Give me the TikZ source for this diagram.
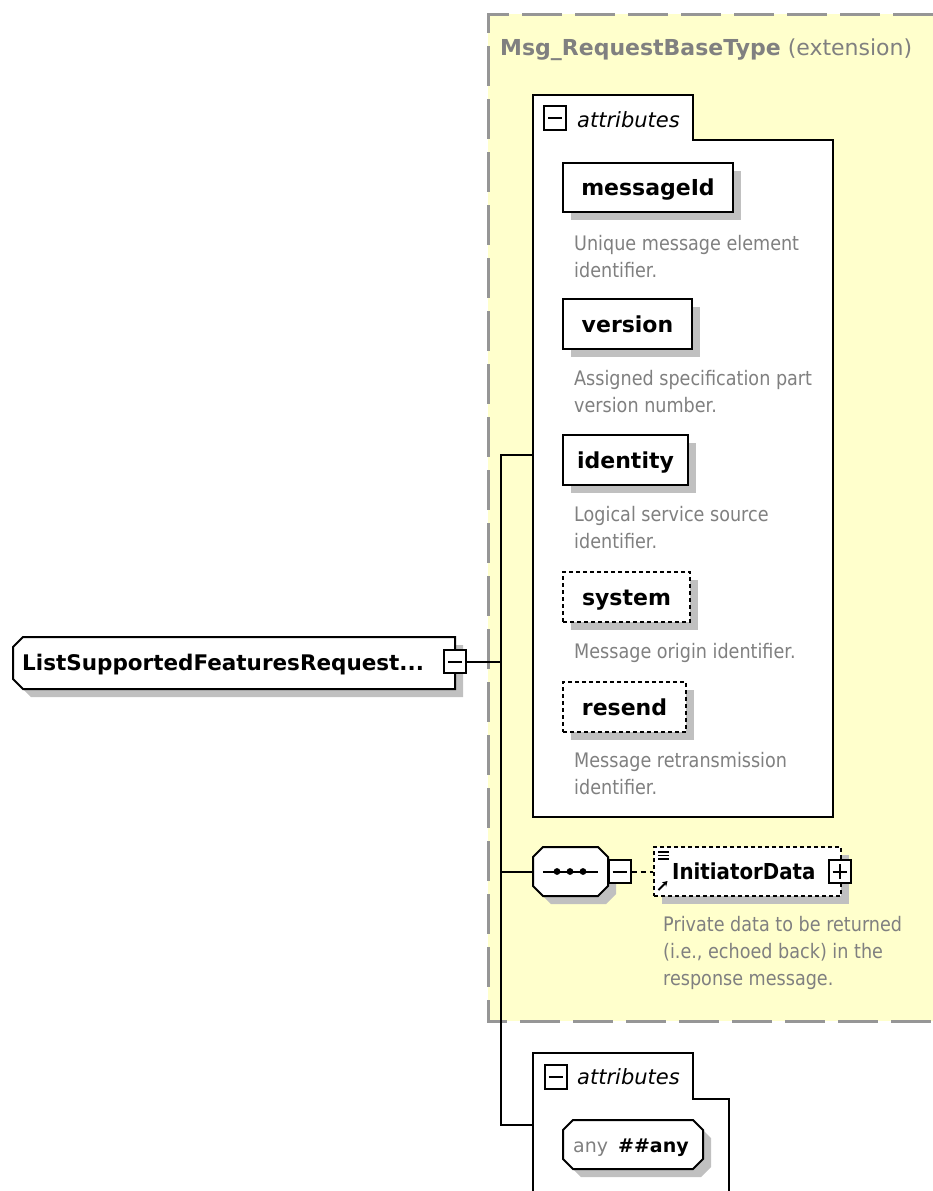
\documentclass[tikz,border=0pt]{standalone}
\usepackage{fontspec}
\setmainfont{DejaVu Sans}
\newfontfamily\notefont[FakeStretch=0.88]{DejaVu Sans}
\newfontfamily\narrowfont[FakeStretch=0.9]{DejaVu Sans}
\usetikzlibrary{shadows,arrows.meta,calc}

\definecolor{panel}{RGB}{255,255,204}
\definecolor{panelrule}{RGB}{150,150,150}
\definecolor{shadowgray}{RGB}{192,192,192}
\definecolor{notegray}{RGB}{128,128,128}

% Cut-corner outline with its drop shadow:
% centre x, centre y, half width, half height, left cut, right cut
\newcommand\cutbox[6]{%
  \fill[shadowgray, shift={(#1+8,#2+8)}]
    (-#3+#5,-#4) -- (#3-#6,-#4) -- (#3,-#4+#6) -- (#3,#4-#6) -- (#3-#6,#4)
    -- (-#3+#5,#4) -- (-#3,#4-#5) -- (-#3,-#4+#5) -- cycle;
  \draw[line width=2pt, fill=white, shift={(#1,#2)}]
    (-#3+#5,-#4) -- (#3-#6,-#4) -- (#3,-#4+#6) -- (#3,#4-#6) -- (#3-#6,#4)
    -- (-#3+#5,#4) -- (-#3,#4-#5) -- (-#3,-#4+#5) -- cycle;
}

\tikzset{
  shadowed/.style={general shadow={fill=shadowgray, shadow xshift=8pt, shadow yshift=-8pt}},
  elem/.style={rectangle, draw=black, line width=2pt, fill=white, inner sep=0pt,
    shadowed, font=\fontsize{22}{22}\selectfont\bfseries, text height=16pt, text depth=0pt},
  optelem/.style={elem, dash pattern=on 4pt off 3pt},
  frame/.style={rectangle, inner sep=0pt},
  note/.style={anchor=base west, inner sep=0pt, text=notegray,
    font=\notefont\fontsize{20}{27}\selectfont, align=left},
  toggle/.style={rectangle, draw=black, line width=2pt, fill=white, inner sep=0pt,
    minimum width=22pt, minimum height=23pt},
  minusbox/.style={toggle, path picture={
    \draw[line width=2pt] ([xshift=4pt]path picture bounding box.west) --
      ([xshift=-4pt]path picture bounding box.east);}},
  plusbox/.style={toggle, path picture={
    \draw[line width=2pt] ([xshift=4pt]path picture bounding box.west) --
      ([xshift=-4pt]path picture bounding box.east);
    \draw[line width=2pt] ([yshift=-4pt]path picture bounding box.north) --
      ([yshift=4pt]path picture bounding box.south);}},
  wire/.style={line width=2pt, black},
  optwire/.style={wire, dash pattern=on 5pt off 4pt},
  groupbox/.style={draw=black, line width=2pt, fill=white},
  grouplabel/.style={anchor=base west, inner sep=0pt,
    font=\fontsize{21}{21}\selectfont\itshape},
  paneledge/.style={draw=panelrule, line width=3pt, dash pattern=on 40pt off 13pt},
  boldlabel/.style={anchor=west, inner sep=0pt, font=\fontsize{22}{22}\selectfont\bfseries,
    text height=16pt, text depth=0pt},
}

\begin{document}
\begin{tikzpicture}[x=1pt,y=-1pt]
  \path[use as bounding box, fill=white] (0,0) rectangle (933,1191);

  % base type extension panel
  \fill[panel] (488,14) rectangle (933,1021);
  \draw[paneledge] (933,14) -- (488,14) -- (488,1021) -- (933,1021);
  \node[anchor=base west, inner sep=0pt, text=notegray,
    font=\fontsize{22}{22}\selectfont] (basetitle) at (500,55)
    {\textbf{Msg\_RequestBaseType} (extension)};

  % inherited attribute group
  \path[groupbox] (533,95) -- (693,95) -- (693,140) -- (833,140) -- (833,817)
    -- (533,817) -- cycle;
  \node[minusbox, minimum height=24pt] (attrAx) at (555,118) {};
  \node[grouplabel] (attrAlbl) at (577,127) {attributes};
  \coordinate (attrAin) at (533,455);

  \node[elem, minimum width=170pt, minimum height=49pt] (messageId) at (648,187.5) {messageId};
  \node[note] (messageIdNote) at (574,277) {Unique message element\\identifier.};

  \node[elem, minimum width=129pt, minimum height=50pt] (version) at (627.5,324) {version};
  \node[note] (versionNote) at (574,412) {Assigned specification part\\version number.};

  \node[elem, minimum width=125pt, minimum height=50pt] (identity) at (625.5,460) {identity};
  \node[note] (identityNote) at (574,548) {Logical service source\\identifier.};

  \node[optelem, minimum width=127pt, minimum height=50pt] (system) at (626.5,597) {system};
  \node[note] (systemNote) at (574,658) {Message origin identifier.};

  \node[optelem, minimum width=123pt, minimum height=50pt] (resend) at (624.5,707) {resend};
  \node[note] (resendNote) at (574,794) {Message retransmission\\identifier.};

  % sequence with the optional initiator data
  \cutbox{570.5}{871.5}{37.5}{24.5}{10}{10}
  \node[frame, minimum width=75pt, minimum height=49pt] (seq) at (570.5,871.5) {};
  \draw[line width=2pt] ([xshift=10pt]seq.west) -- ([xshift=-10pt]seq.east);
  \foreach \dx in {557,570,583} \fill (\dx,871.5) circle (3.4pt);
  \node[minusbox] (seqx) at (619.5,871.5) {};

  \node[optelem, minimum width=187pt, minimum height=49pt] (init) at (747.5,871.5) {};
  \node[boldlabel, font=\narrowfont\fontsize{22}{22}\selectfont\bfseries] (initlbl)
    at (672,871.5) {InitiatorData};
  \node[plusbox] (initx) at (839.5,871.5) {};
  \foreach \ly in {852,855.5,859} \draw[line width=1.2pt] (658,\ly) -- (669,\ly);
  \draw[line width=1.8pt, -{Stealth[length=5pt,width=6pt]}] (658.5,890) -- (667.5,881);
  \node[note] (initNote) at (663,985) {Private data to be returned\\(i.e., echoed back) in the\\response message.};

  % own attribute group
  \path[groupbox] (533,1200) -- (533,1053) -- (693,1053) -- (693,1099) -- (729,1099)
    -- (729,1200);
  \node[minusbox, minimum height=24pt] (attrBx) at (555.5,1076.5) {};
  \node[grouplabel] (attrBlbl) at (577,1084) {attributes};
  \coordinate (attrBin) at (533,1125);
  \cutbox{633}{1144.5}{70}{24.5}{10}{10}
  \node[frame, minimum width=140pt, minimum height=49pt] (anyattr) at (633,1144.5) {};
  \node[anchor=base west, inner sep=0pt, font=\fontsize{19}{19}\selectfont]
    (anylbl) at (573,1152) {\textcolor{notegray}{any}\hspace{10pt}\textbf{\#\#any}};

  % the element itself
  \cutbox{234}{663}{221}{26}{10}{0}
  \node[frame, minimum width=442pt, minimum height=52pt] (main) at (234,663) {};
  \node[boldlabel, font=\fontsize{21.5}{21.5}\selectfont\bfseries] (mainlbl)
    at (22,662) {ListSupportedFeaturesRequest...};
  \node[minusbox] (mainx) at (455,661.5) {};

  % connectors
  \coordinate (trunkTop) at (501,455);
  \coordinate (trunkEnd) at (501,1125);
  \draw[wire] (mainx.east) -- (mainx.east -| trunkTop);
  \draw[wire] (attrAin) -- (trunkTop) -- (trunkEnd) -- (attrBin);
  \draw[wire] (seq.west -| trunkTop) -- (seq.west);
  \draw[optwire] (seqx.east) -- (init.west);
\end{tikzpicture}
\end{document}
